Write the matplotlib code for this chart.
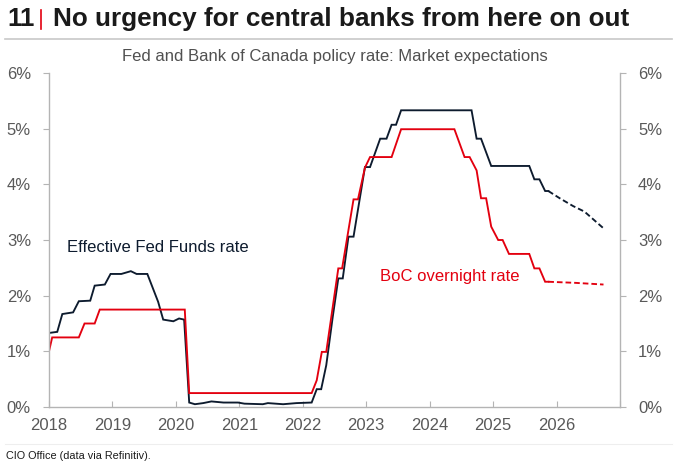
import numpy as np
import matplotlib.pyplot as plt

# ------------------------------------------------------------
# Daten (Zeit als Dezimaljahr)
# ------------------------------------------------------------
fed_t = [2018.00, 2018.13, 2018.21, 2018.38, 2018.47, 2018.65, 2018.72, 2018.88,
         2018.97, 2019.14, 2019.29, 2019.38, 2019.55, 2019.72, 2019.80, 2019.96,
         2020.05, 2020.13, 2020.21, 2020.30, 2020.43, 2020.56, 2020.75, 2020.98,
         2021.08, 2021.37, 2021.45, 2021.69, 2021.90, 2022.14, 2022.22, 2022.29,
         2022.37, 2022.47, 2022.56, 2022.63, 2022.72, 2022.80, 2022.98, 2023.06,
         2023.22, 2023.32, 2023.40, 2023.47, 2023.55, 2024.66, 2024.74, 2024.81,
         2024.97, 2025.57, 2025.65, 2025.73, 2025.82, 2025.87]
fed_v = [1.33, 1.35, 1.67, 1.70, 1.90, 1.91, 2.18, 2.20,
         2.39, 2.39, 2.44, 2.39, 2.39, 1.89, 1.57, 1.54,
         1.59, 1.57, 0.08, 0.05, 0.07, 0.10, 0.08, 0.08,
         0.06, 0.05, 0.07, 0.05, 0.07, 0.08, 0.32, 0.32,
         0.75, 1.60, 2.31, 2.31, 3.06, 3.06, 4.31, 4.31,
         4.82, 4.82, 5.07, 5.07, 5.33, 5.33, 4.82, 4.82,
         4.33, 4.33, 4.09, 4.09, 3.88, 3.88]
fed_fc_t = [2025.87, 2026.05, 2026.26, 2026.44, 2026.62, 2026.74]
fed_fc_v = [3.88, 3.75, 3.61, 3.51, 3.33, 3.21]

boc_t = [2018.00, 2018.05, 2018.47, 2018.56, 2018.72, 2018.80, 2020.14, 2020.21,
         2022.14, 2022.22, 2022.30, 2022.37, 2022.56, 2022.62, 2022.80, 2022.87,
         2022.98, 2023.06, 2023.40, 2023.55, 2024.39, 2024.55, 2024.63, 2024.74,
         2024.81, 2024.89, 2024.97, 2025.08, 2025.15, 2025.25, 2025.57, 2025.65,
         2025.73, 2025.82, 2025.87]
boc_v = [1.00, 1.25, 1.25, 1.50, 1.50, 1.75, 1.75, 0.25,
         0.25, 0.48, 0.99, 0.99, 2.49, 2.49, 3.73, 3.73,
         4.30, 4.49, 4.49, 4.99, 4.99, 4.49, 4.49, 4.25,
         3.75, 3.75, 3.24, 3.00, 3.00, 2.75, 2.75, 2.49,
         2.49, 2.25, 2.25]
boc_fc_t = [2025.87, 2026.30, 2026.74]
boc_fc_v = [2.25, 2.23, 2.20]

jahre = [2018, 2019, 2020, 2021, 2022, 2023, 2024, 2025, 2026, 2027]
jahr_labels = ["2018", "2019", "2020", "2021", "2022", "2023", "2024", "2025", "2026", ""]
prozent = [0, 1, 2, 3, 4, 5, 6]

# ------------------------------------------------------------
# Plot
# ------------------------------------------------------------
plt.rcParams['font.family'] = ['Liberation Sans', 'DejaVu Sans']

farbe_fed = "#0d1b2e"
farbe_boc = "#e3000f"
grau_achse = "#b4b4b4"
grau_text = "#595959"

fig = plt.figure(figsize=(6.78, 4.70), dpi=100)
ax = fig.add_axes([49 / 678, 1 - 407 / 470, (620 - 49) / 678, (407 - 73) / 470])

ax.plot(fed_t, fed_v, color=farbe_fed, lw=1.35, solid_joinstyle="miter")
ax.plot(fed_fc_t, fed_fc_v, color=farbe_fed, lw=1.35, ls=(0, (3, 1.6)))
ax.plot(boc_t, boc_v, color=farbe_boc, lw=1.35, solid_joinstyle="miter")
ax.plot(boc_fc_t, boc_fc_v, color=farbe_boc, lw=1.35, ls=(0, (3, 1.6)))

ax.set_xlim(2018, 2027)
ax.set_ylim(0, 6)
ax.set_xticks(jahre)
ax.set_xticklabels(jahr_labels)
ax.set_yticks(prozent)
ax.set_yticklabels([f"{p}%" for p in prozent])

ax.spines["top"].set_visible(False)
for s in ["left", "right", "bottom"]:
    ax.spines[s].set_color(grau_achse)
    ax.spines[s].set_linewidth(1.0)

ax.tick_params(axis="x", direction="in", length=4, color=grau_achse,
               labelsize=12, labelcolor=grau_text, pad=8)
ax.tick_params(axis="y", direction="out", length=4, color=grau_achse,
               labelsize=12, labelcolor=grau_text, pad=9,
               right=True, labelright=True)

ax.text(2018.28, 2.86, "Effective Fed Funds rate", color=farbe_fed, fontsize=12,
        va="center", ha="left")
ax.text(2023.21, 2.34, "BoC overnight rate", color=farbe_boc, fontsize=12,
        va="center", ha="left")

# Titel
fig.text(7 / 678, 1 - 19 / 470, "11", fontsize=18.5, fontweight="bold",
         color="#1a1a1a", va="center", ha="left")
fig.add_artist(plt.Line2D([41 / 678, 41 / 678], [1 - 10 / 470, 1 - 29 / 470],
                          color=farbe_boc, lw=1.2))
fig.text(53 / 678, 1 - 19 / 470, "No urgency for central banks from here on out",
         fontsize=18.8, fontweight="bold", color="#1a1a1a", va="center", ha="left")
fig.add_artist(plt.Line2D([5 / 678, 672 / 678], [1 - 39 / 470, 1 - 39 / 470],
                          color="#c8c8c8", lw=1.2))
fig.text(335 / 678, 1 - 56 / 470,
         "Fed and Bank of Canada policy rate: Market expectations",
         fontsize=12, color="#505050", va="center", ha="center")

fig.add_artist(plt.Line2D([5 / 678, 672 / 678], [1 - 444 / 470, 1 - 444 / 470],
                          color="#eeeeee", lw=0.8))
fig.text(6 / 678, 1 - 456 / 470, "CIO Office (data via Refinitiv).",
         fontsize=7.8, color="#1a1a1a", va="center", ha="left")

fig.savefig("out.png", dpi=100)
